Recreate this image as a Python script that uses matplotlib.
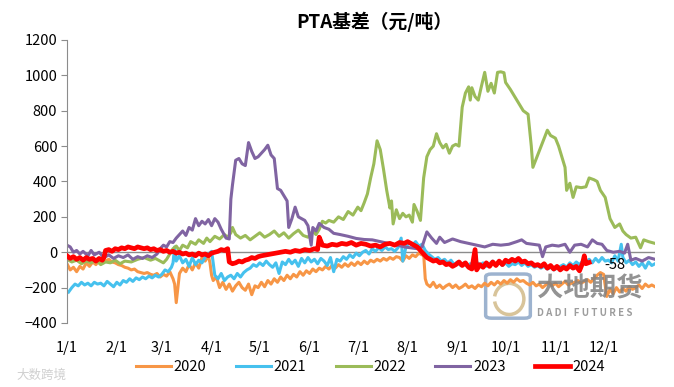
import matplotlib
matplotlib.use("Agg")
import matplotlib.pyplot as plt
from matplotlib.patches import FancyBboxPatch, Arc

plt.rcParams['font.family'] = ['Noto Sans CJK SC', 'DejaVu Sans']

# x = day of year (0 = 1/1), y = basis (yuan/ton)
d2020 = [0, 2, 4, 6, 8, 10, 12, 14, 16, 18, 20, 22, 24, 26, 28, 30, 32, 34, 36, 38, 40, 42, 44, 46, 48, 50,
         52, 54, 56, 58, 60, 62, 64, 66, 67, 68, 69, 70, 72, 74, 76, 78, 80, 82, 84, 86, 88, 89, 90, 91, 93,
         95, 97, 99, 101, 103, 105, 107, 109, 111, 113, 115, 117, 119, 121, 123, 125, 127, 129, 131, 133,
         135, 137, 139, 141, 143, 145, 147, 149, 151, 153, 155, 157, 159, 161, 163, 165, 167, 169, 171,
         173, 175, 177, 179, 181, 183, 185, 187, 189, 191, 193, 195, 197, 199, 201, 203, 205, 207, 209,
         211, 213, 215, 217, 219, 221, 222, 223, 224, 226, 228, 230, 232, 234, 236, 238, 240, 242, 244,
         246, 248, 250, 252, 254, 256, 258, 260, 262, 264, 266, 268, 270, 272, 274, 276, 278, 280, 282,
         284, 286, 288, 290, 292, 294, 296, 298, 300, 302, 304, 306, 308, 310, 312, 314, 316, 318, 320,
         322, 324, 326, 328, 330, 332, 334, 336, 338, 340, 342, 344, 346, 348, 350, 352, 354, 356, 358,
         360, 362, 364, 366]
v2020 = [-65, -100, -85, -110, -80, -95, -60, -80, -55, -70, -45, -60, -50, -40, -55, -60, -70, -75, -85,
         -90, -100, -95, -110, -115, -120, -115, -125, -130, -120, -140, -125, -135, -110, -150, -180, -285,
         -200, -120, -90, -110, -70, -100, -60, -90, -30, -50, -20, -60, -130, -160, -140, -200, -170, -210,
         -180, -220, -190, -170, -200, -215, -180, -240, -190, -200, -170, -195, -160, -180, -150, -170,
         -140, -160, -130, -150, -125, -140, -110, -130, -105, -120, -95, -110, -90, -100, -80, -95, -75,
         -90, -70, -85, -65, -80, -60, -75, -55, -70, -50, -65, -45, -55, -40, -50, -35, -45, -30, -40, -25,
         -30, -50, -20, -35, -15, -25, -5, -15, -10, -150, -180, -195, -170, -200, -185, -205, -190, -180,
         -200, -185, -205, -195, -180, -200, -190, -205, -185, -195, -175, -190, -170, -185, -165, -180,
         -160, -175, -155, -170, -150, -165, -160, -175, -185, -170, -190, -180, -200, -185, -170, -190,
         -175, -195, -180, -165, -185, -175, -170, -160, -175, -165, -155, -170, -150, -130, -115, -125,
         -250, -210, -235, -200, -225, -205, -220, -195, -210, -200, -185, -205, -180, -195, -185, -195]

d2021 = [1, 3, 5, 7, 9, 11, 13, 15, 17, 19, 21, 23, 25, 27, 29, 31, 33, 35, 37, 39, 41, 43, 45, 47, 49, 51,
         53, 55, 57, 59, 61, 63, 65, 66, 67, 68, 70, 72, 74, 76, 78, 80, 82, 84, 86, 88, 90, 91, 92, 94, 96,
         98, 100, 102, 104, 106, 108, 110, 112, 114, 116, 118, 120, 122, 124, 126, 128, 130, 132, 134, 136,
         138, 140, 142, 144, 146, 148, 150, 152, 154, 156, 158, 160, 162, 164, 166, 168, 170, 172, 174,
         176, 178, 180, 182, 184, 186, 188, 190, 192, 194, 196, 198, 200, 202, 204, 206, 208, 209, 211,
         213, 215, 217, 219, 221, 223, 225, 227, 229, 231, 233, 235, 237, 239, 241, 243, 245, 247, 249,
         251, 253, 255, 257, 259, 261, 263, 265, 267, 269, 271, 273, 275, 277, 279, 281, 283, 285, 287,
         289, 291, 293, 295, 297, 299, 301, 303, 305, 307, 309, 311, 313, 315, 317, 319, 321, 323, 325,
         327, 329, 331, 333, 335, 337, 339, 341, 343, 345, 346, 348, 350, 352, 354, 356, 358, 360, 362,
         364, 366]
v2021 = [-225, -200, -180, -190, -170, -185, -175, -190, -170, -180, -175, -190, -165, -180, -195, -170,
         -185, -160, -170, -150, -165, -145, -155, -140, -150, -135, -145, -130, -140, -125, -100, -110,
         -85, -60, 30, -50, -20, -60, -40, -80, -30, -70, -45, -60, -30, -10, 5, -60, -130, -150, -120, -160,
         -140, -130, -150, -120, -140, -115, -100, -90, -70, -80, -60, -75, -50, -70, -85, -60, -120, -55,
         -70, -40, -65, -45, -80, -35, -60, -30, -55, -40, -65, -35, -50, -75, -30, -110, -40, -50, -25,
         -40, -15, -30, -5, -20, 0, 10, -10, 20, 5, 25, 10, 30, 15, 20, 5, 25, 80, -50, 30, 55, 40, 60, 35,
         45, 10, -10, -25, -40, -30, -50, -40, -60, -45, -70, -55, -75, -60, -80, -65, -70, -55, -75, -60,
         -80, -65, -50, -70, -55, -75, -60, -80, -65, -70, -55, -75, -60, -80, -70, -85, -75, -90, -80, -95,
         -85, -100, -90, -80, -70, -85, -60, -75, -55, -70, -50, -65, -40, -60, -35, -55, -30, -50, -45,
         -60, -20, -50, 45, -30, -60, -45, -70, -55, -80, -60, -90, -55, -75, -65]

d2022 = [0, 3, 6, 9, 12, 15, 18, 21, 24, 27, 30, 33, 36, 40, 44, 48, 52, 55, 58, 60, 62, 64, 66, 68, 70,
         72, 75, 77, 80, 82, 85, 87, 89, 92, 95, 98, 100, 102, 103, 105, 108, 111, 114, 117, 120, 123, 126,
         129, 132, 135, 138, 141, 144, 147, 150, 153, 155, 157, 159, 161, 163, 166, 169, 172, 175, 178,
         181, 183, 185, 187, 189, 191, 193, 195, 197, 199, 201, 202, 203, 205, 207, 209, 211, 213, 215,
         216, 218, 220, 222, 224, 226, 228, 230, 232, 234, 236, 238, 240, 242, 244, 246, 248, 250, 251,
         252, 254, 256, 258, 260, 262, 264, 266, 268, 270, 272, 273, 276, 280, 284, 287, 289, 290, 293,
         296, 299, 301, 304, 306, 308, 310, 311, 313, 315, 317, 320, 323, 325, 328, 330, 332, 335, 338,
         341, 344, 346, 348, 351, 354, 357, 359, 362, 366]
v2022 = [-40, -55, -45, -65, -50, -60, -45, -70, -55, -60, -45, -65, -50, -55, -40, -30, -45, -35, -50,
         -60, -40, -10, 20, 35, 10, 40, 25, 60, 45, 70, 50, 80, 60, 90, 75, 100, 85, 110, 140, 100, 80, 95,
         70, 90, 110, 85, 100, 120, 90, 110, 80, 105, 125, 95, 85, 120, 100, 130, 175, 165, 180, 170, 200,
         185, 230, 210, 255, 235, 280, 330, 420, 500, 630, 580, 470, 350, 250, 290, 160, 240, 190, 220,
         200, 210, 170, 270, 230, 180, 420, 540, 580, 600, 670, 620, 590, 610, 560, 600, 610, 600, 820,
         900, 935, 860, 930, 880, 860, 940, 1017, 910, 955, 900, 1017, 1020, 1015, 960, 920, 860, 800,
         780, 600, 480, 550, 620, 690, 660, 645, 600, 540, 480, 350, 390, 310, 370, 365, 370, 420, 410,
         400, 350, 310, 190, 140, 160, 120, 100, 80, 85, 25, 70, 60, 50]

d2023 = [0, 2, 4, 6, 8, 10, 13, 15, 17, 20, 23, 26, 29, 32, 35, 38, 41, 44, 47, 50, 53, 56, 58, 60, 62,
         64, 66, 68, 70, 72, 74, 76, 78, 80, 82, 84, 86, 88, 90, 92, 94, 96, 99, 101, 102, 103, 105, 107,
         109, 111, 113, 115, 117, 119, 121, 123, 125, 127, 129, 131, 133, 135, 137, 138, 140, 142, 144,
         146, 148, 150, 152, 153, 155, 157, 160, 163, 166, 170, 175, 180, 185, 190, 195, 200, 205, 210,
         214, 218, 221, 224, 227, 230, 232, 235, 240, 245, 250, 255, 260, 265, 270, 275, 280, 283, 286,
         290, 294, 296, 298, 302, 306, 310, 313, 316, 320, 324, 327, 330, 333, 336, 340, 344, 347, 349,
         351, 354, 358, 362, 366]
v2023 = [40, 30, 0, 10, -10, 5, -20, 10, -15, 0, -30, -15, -35, -20, -30, -15, -40, -25, -35, -20, -30,
         -10, 20, 40, 30, 60, 55, 80, 100, 120, 95, 140, 125, 190, 150, 175, 160, 185, 150, 190, 170, 130,
         80, 75, 300, 380, 520, 530, 500, 490, 620, 570, 530, 540, 560, 580, 605, 550, 530, 360, 350, 320,
         290, 140, 190, 255, 200, 190, 180, 150, 40, 140, 120, 163, 140, 130, 107, 100, 90, 78, 72, 70, 60,
         50, 42, 30, 25, 20, 30, 115, 80, 50, 85, 55, 75, 60, 50, 40, 30, 45, 40, 45, 60, 70, 50, 45, 40,
         -25, 30, 40, 35, 45, 0, 40, 45, 30, 70, 50, 45, 10, 0, 5, -5, 45, -45, -35, -50, -30, -40]

d2024 = [0, 2, 4, 6, 8, 10, 12, 14, 16, 18, 20, 22, 23, 24, 26, 28, 30, 32, 34, 36, 38, 40, 42, 44, 46,
         48, 50, 52, 54, 56, 58, 60, 62, 64, 66, 68, 70, 72, 74, 76, 78, 80, 82, 84, 86, 88, 90, 92, 94, 96,
         98, 100, 101, 103, 105, 107, 109, 111, 113, 115, 117, 119, 121, 124, 127, 130, 133, 136, 139, 142,
         145, 148, 151, 154, 156, 157, 159, 162, 165, 168, 171, 174, 177, 180, 183, 186, 189, 192, 195,
         198, 201, 204, 207, 210, 212, 214, 216, 218, 220, 222, 224, 226, 228, 230, 232, 234, 236, 238,
         240, 242, 244, 246, 248, 250, 252, 254, 255, 257, 259, 261, 263, 265, 267, 269, 271, 273, 275,
         277, 279, 281, 283, 285, 287, 289, 291, 293, 295, 297, 299, 301, 303, 305, 307, 309, 311, 313,
         315, 317, 319, 321, 322, 323, 325]
v2024 = [-20, -35, -25, -40, -30, -45, -30, -40, -35, -50, -35, -45, -30, 10, 15, 5, 20, 15, 25, 20, 30,
         25, 20, 30, 25, 20, 25, 15, 20, 10, 15, 5, 10, 0, 5, -5, 0, -10, -5, -15, -10, -20, -5, -15, -10,
         -20, -5, 0, 5, 15, 10, 20, -55, -65, -60, -50, -55, -45, -40, -30, -35, -25, -20, -15, -10, -5, 0,
         5, 0, 10, 5, 15, 10, 20, 15, 85, 40, 35, 45, 40, 50, 45, 55, 40, 50, 45, 35, 40, 30, 45, 50, 40, 55,
         50, 60, 50, 40, 30, 10, -10, -30, -40, -50, -45, -60, -55, -70, -65, -80, -70, -55, -75, -60, -85,
         -95, 15, -100, -70, -85, -60, -80, -55, -75, -50, -70, -45, -55, -40, -50, -35, -55, -50, -65,
         -60, -75, -70, -80, -65, -90, -75, -95, -80, -100, -85, -95, -75, -90, -80, -105, -60, -20, -65,
         -58]

month_days = [0, 31, 59, 90, 120, 151, 181, 212, 243, 273, 304, 334]
month_labels = ['1/1', '2/1', '3/1', '4/1', '5/1', '6/1', '7/1', '8/1', '9/1', '10/1', '11/1', '12/1']

fig = plt.figure(figsize=(6.74, 3.87), dpi=100)
ax = fig.add_axes([0.0994, 0.1654, 0.8724, 0.7313])

ax.plot(d2020, v2020, color='#F79646', lw=2.2, label='2020')
ax.plot(d2021, v2021, color='#46C1EE', lw=2.2, label='2021')
ax.plot(d2022, v2022, color='#9BBB59', lw=2.2, label='2022')
ax.plot(d2023, v2023, color='#8064A2', lw=2.2, label='2023')
ax.plot(d2024, v2024, color='#FF0000', lw=3.4, label='2024', zorder=5)
ax.axhline(0, color='#8C8C8C', lw=1.0, zorder=1)

ax.text(341, -72, '-58', fontsize=10.5, ha='center', va='center', zorder=6)

ax.set_xlim(0, 366)
ax.set_ylim(-400, 1200)
ax.set_yticks(range(-400, 1201, 200))
ax.set_xticks(month_days)
ax.set_xticklabels(month_labels)
for s in ['top', 'right', 'bottom']:
    ax.spines[s].set_visible(False)
ax.spines['left'].set_color('#8C8C8C')
ax.tick_params(axis='y', direction='out', length=4, color='#8C8C8C', labelsize=10.5, pad=3)
ax.tick_params(axis='x', length=0, labelsize=10.5, pad=13)

fig.text(0.555, 0.943, 'PTA基差（元/吨）', fontsize=13.5, fontweight='bold', ha='center', va='center')

# watermark logo (大地期货)
logo = FancyBboxPatch((0.715, 0.02), 0.07, 0.15, boxstyle='round,pad=0.003,rounding_size=0.01',
                      transform=ax.transAxes, fill=False, edgecolor='#9DB3CF', lw=2.5, zorder=0)
ax.add_patch(logo)
ax.add_patch(Arc((0.752, 0.085), 0.05, 0.11, transform=ax.transAxes, theta1=200, theta2=520,
                 color='#D8C49A', lw=2.5, zorder=0))
ax.text(0.8, 0.12, '大地期货', transform=ax.transAxes, fontsize=19, color='#808080',
        fontweight='bold', ha='left', va='center', alpha=0.85)
ax.text(0.8, 0.035, 'D A D I   F U T U R E S', transform=ax.transAxes, fontsize=7, color='#8C8C8C',
        fontweight='bold', ha='left', va='center', alpha=0.85)
fig.text(0.025, 0.03, '大数跨境', fontsize=9, color='#D0D0D0', ha='left', va='center')

fig.legend(loc='center', bbox_to_anchor=(0.55, 0.052), ncol=5, frameon=False, fontsize=10.5,
           handlelength=2.4, columnspacing=2.0, handletextpad=0.2)

fig.savefig('out.png', dpi=100)
